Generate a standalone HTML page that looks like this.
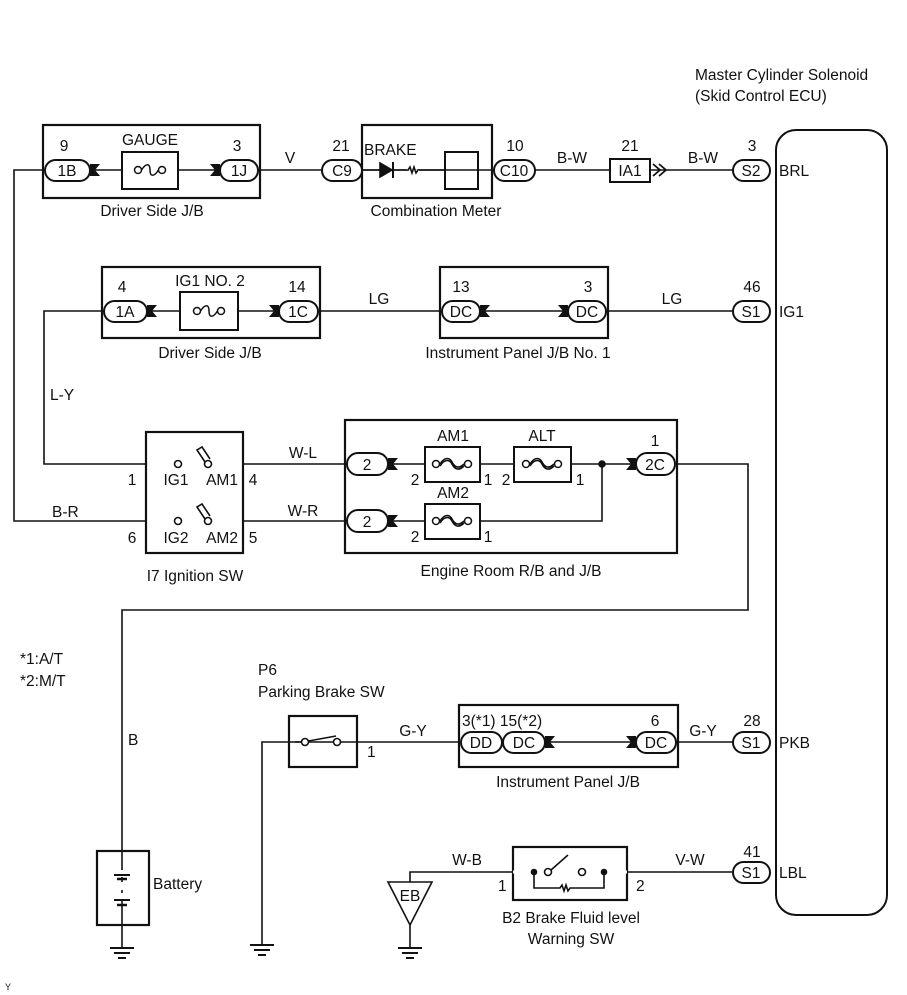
<!DOCTYPE html><html><head><style>body{margin:0;background:#fff}svg{display:block}text{font-family:"Liberation Sans",Arial,sans-serif;font-size:15.5px;fill:#111}</style></head><body>
<svg width="907" height="995" viewBox="0 0 907 995" xmlns="http://www.w3.org/2000/svg">
<defs>
<g id="fz"><circle cx="-12" cy="0" r="3.5" fill="#fff" stroke="#111" stroke-width="1.5"/><circle cx="12" cy="0" r="3.5" fill="#fff" stroke="#111" stroke-width="1.5"/><path d="M-8.5 0 C-4 -7 0 -7 0 0 C0 7 4 7 8.5 0" fill="none" stroke="#111" stroke-width="1.5"/></g>
<g id="fzw"><circle cx="-16" cy="0" r="3.5" fill="#fff" stroke="#111" stroke-width="1.5"/><circle cx="16" cy="0" r="3.5" fill="#fff" stroke="#111" stroke-width="1.5"/><path d="M-12 0 C-7 -8 -2 -6 0 -2 C2 2 6 6 12 0 M-12 2 C-7 -6 -2 -4 0 0 C2 4 6 8 12 2" fill="none" stroke="#111" stroke-width="1.6"/></g>
<path id="gl" d="M-7 -6 L3 -6 L-2 0 L3 6 L-7 6 Z" fill="#111"/>
<path id="gr" d="M7 -6 L-3 -6 L2 0 L-3 6 L7 6 Z" fill="#111"/>
<g id="gnd"><line x1="-12" y1="0" x2="12" y2="0" stroke="#111" stroke-width="2"/><line x1="-8" y1="5" x2="8" y2="5" stroke="#111" stroke-width="2"/><line x1="-4" y1="10" x2="4" y2="10" stroke="#111" stroke-width="2"/></g>
</defs>
<g stroke="#111" stroke-width="1.6" fill="none">
<path d="M45 170 H14 V521 H146"/>
<path d="M258 170 H322 M362 170 H494 M535 170 H610 M650 170 H733"/>
<path d="M104 311 H44 V464 H146 M318 311 H442 M480 311 H568 M606 311 H733"/>
<path d="M243 464 H347 M243 521 H347 M388 464 H636 M388 521 H602 V464 M675 464 H748 V610 H122 V851 M122 925 V948"/>
<path d="M147 311 H279 M90 170 H220"/>
<path d="M262 945 V742 H459 M676 742 H733 M545 742 H636"/>
<path d="M410 925 V948 M410 882 V872 H513 M627 872 H733"/>
<rect x="43" y="125" width="217" height="73" stroke-width="2.2"/>
<rect x="122" y="152" width="56" height="37" fill="#fff" stroke-width="2"/>
<rect x="362" y="125" width="130" height="73" stroke-width="2.2"/>
<rect x="445" y="152" width="33" height="37" stroke-width="2"/>
<rect x="610" y="159" width="40" height="23" fill="#fff" stroke-width="2"/>
<rect x="776" y="130" width="111" height="785" rx="20" stroke-width="2"/>
<rect x="102" y="267" width="218" height="71" stroke-width="2.2"/>
<rect x="180" y="292" width="58" height="38" fill="#fff" stroke-width="2"/>
<rect x="440" y="267" width="168" height="71" stroke-width="2.2"/>
<rect x="146" y="432" width="97" height="121" stroke-width="2.2"/>
<rect x="345" y="420" width="332" height="133" stroke-width="2.2"/>
<rect x="425" y="447" width="55" height="35" fill="#fff" stroke-width="2"/>
<rect x="514" y="447" width="57" height="35" fill="#fff" stroke-width="2"/>
<rect x="425" y="504" width="55" height="35" fill="#fff" stroke-width="2"/>
<rect x="289" y="716" width="68" height="51" stroke-width="2.2"/>
<rect x="459" y="705" width="219" height="62" stroke-width="2.2"/>
<rect x="513" y="847" width="114" height="53" stroke-width="2.2"/>
<rect x="97" y="851" width="52" height="74" stroke-width="2.2"/>
<g fill="#fff" stroke-width="2">
<rect x="45" y="160" width="45" height="21" rx="10.5"/><rect x="220" y="160" width="38" height="21" rx="10.5"/>
<rect x="322" y="160" width="40" height="21" rx="10.5"/><rect x="494" y="160" width="41" height="21" rx="10.5"/>
<rect x="733" y="160" width="37" height="21" rx="10.5"/>
<rect x="104" y="301" width="43" height="21" rx="10.5"/><rect x="279" y="301" width="39" height="21" rx="10.5"/>
<rect x="442" y="301" width="38" height="21" rx="10.5"/><rect x="568" y="301" width="38" height="21" rx="10.5"/>
<rect x="733" y="301" width="37" height="21" rx="10.5"/>
<rect x="347" y="453" width="41" height="22" rx="11"/><rect x="347" y="510" width="41" height="22" rx="11"/>
<rect x="636" y="453" width="39" height="22" rx="11"/>
<rect x="461" y="732" width="41" height="21" rx="10.5"/><rect x="503" y="732" width="42" height="21" rx="10.5"/>
<rect x="636" y="732" width="40" height="21" rx="10.5"/><rect x="733" y="732" width="37" height="21" rx="10.5"/>
<rect x="733" y="862" width="37" height="21" rx="10.5"/>
</g>
<circle cx="178" cy="464" r="3.5" fill="#fff"/><circle cx="208" cy="464" r="3.5" fill="#fff"/>
<path d="M205 462 L197 450 L202 447 L210 459" stroke-width="1.6"/>
<circle cx="178" cy="521" r="3.5" fill="#fff"/><circle cx="208" cy="521" r="3.5" fill="#fff"/>
<path d="M205 519 L197 507 L202 504 L210 516" stroke-width="1.6"/>
<circle cx="305" cy="742" r="3.5" fill="#fff"/><circle cx="337" cy="742" r="3.5" fill="#fff"/>
<path d="M295 742 H301.5 M308.5 741 L336 736" />
<path d="M513 872 H526 M530 872 H545 M580 872 H604 M609 872 H627" stroke="#fff" stroke-width="3"/>
<circle cx="548" cy="872" r="3.5" fill="#fff"/><circle cx="582" cy="872" r="3.5" fill="#fff"/>
<path d="M551 870 L568 855"/>
<path d="M534 872 V888 H560 l2 -3 l2 6 l2 -6 l2 6 l2 -3 H604 V872"/>
<circle cx="534" cy="872" r="2.5" fill="#111"/><circle cx="604" cy="872" r="2.5" fill="#111"/>
<circle cx="602" cy="464" r="3" fill="#111"/>
<path d="M388 882 H432 L410 925 Z" fill="#fff"/>
<path d="M380 163 L392 170 L380 177 Z" fill="#111"/><line x1="393" y1="162" x2="393" y2="178" stroke-width="2"/>
<path d="M380 170 H362 M393 170 H445"/>
<path d="M408 170 l2 -3 l2 6 l2 -6 l2 6 l2 -3" stroke="#fff" stroke-width="3"/>
<path d="M408 170 l2 -3 l2 6 l2 -6 l2 6 l2 -3"/>
<path d="M653 164 L660 170 L653 176 M659 164 L666 170 L659 176" stroke-width="1.8"/>
<path d="M122 851 V870 M122 877 V882 M122 890 V893 M122 900 V925" />
<line x1="114" y1="875" x2="130" y2="875" stroke-width="2"/><line x1="117" y1="879" x2="127" y2="879" stroke-width="2.5"/>
<line x1="114" y1="900" x2="130" y2="900" stroke-width="2"/><line x1="117" y1="905" x2="127" y2="905" stroke-width="2.5"/>
</g>
<rect x="126" y="166" width="48" height="8" fill="#fff"/>
<rect x="184" y="307" width="50" height="8" fill="#fff"/>
<use href="#fz" x="150" y="170"/><use href="#fz" x="209" y="311"/>
<use href="#fzw" x="452" y="464"/><use href="#fzw" x="542" y="464"/><use href="#fzw" x="452" y="521"/>
<use href="#gl" x="97" y="170"/><use href="#gr" x="213" y="170"/>
<use href="#gl" x="154" y="311"/><use href="#gr" x="272" y="311"/>
<use href="#gl" x="487" y="311"/><use href="#gr" x="561" y="311"/>
<use href="#gl" x="395" y="464"/><use href="#gl" x="395" y="521"/><use href="#gr" x="629" y="464"/>
<use href="#gl" x="552" y="742"/><use href="#gr" x="629" y="742"/>
<use href="#gnd" x="122" y="948"/><use href="#gnd" x="262" y="945"/><use href="#gnd" x="410" y="948"/>
<g text-anchor="middle">
<text x="67" y="176">1B</text><text x="239" y="176">1J</text><text x="342" y="176">C9</text><text x="514" y="176">C10</text><text x="630" y="176">IA1</text><text x="751" y="176">S2</text>
<text x="125" y="317">1A</text><text x="298" y="317">1C</text><text x="461" y="317">DC</text><text x="587" y="317">DC</text><text x="751" y="317">S1</text>
<text x="367" y="470">2</text><text x="367" y="527">2</text><text x="655" y="470">2C</text>
<text x="481" y="748">DD</text><text x="524" y="748">DC</text><text x="656" y="748">DC</text><text x="751" y="748">S1</text><text x="751" y="878">S1</text>
<text x="410" y="901">EB</text>
<text x="64" y="151">9</text><text x="150" y="145">GAUGE</text><text x="237" y="151">3</text><text x="290" y="163">V</text>
<text x="341" y="151">21</text><text x="515" y="151">10</text><text x="572" y="163">B-W</text><text x="630" y="151">21</text><text x="703" y="163">B-W</text><text x="752" y="151">3</text>
<text x="152" y="216">Driver Side J/B</text><text x="436" y="216">Combination Meter</text>
<text x="122" y="292">4</text><text x="210" y="286">IG1 NO. 2</text><text x="297" y="292">14</text><text x="379" y="304">LG</text>
<text x="461" y="292">13</text><text x="588" y="292">3</text><text x="672" y="304">LG</text><text x="752" y="292">46</text>
<text x="210" y="358">Driver Side J/B</text><text x="518" y="358">Instrument Panel J/B No. 1</text>
<text x="303" y="458">W-L</text><text x="303" y="516">W-R</text><text x="195" y="581">I7 Ignition SW</text><text x="511" y="576">Engine Room R/B and J/B</text>
<text x="453" y="441">AM1</text><text x="542" y="441">ALT</text><text x="453" y="498">AM2</text><text x="655" y="446">1</text>
<text x="415" y="485">2</text><text x="488" y="485">1</text><text x="506" y="485">2</text><text x="580" y="485">1</text><text x="415" y="542">2</text><text x="488" y="542">1</text>
<text x="132" y="485">1</text><text x="176" y="485">IG1</text><text x="222" y="485">AM1</text><text x="253" y="485">4</text>
<text x="132" y="543">6</text><text x="176" y="543">IG2</text><text x="222" y="543">AM2</text><text x="253" y="543">5</text>
<text x="413" y="736">G-Y</text><text x="655" y="726">6</text><text x="703" y="736">G-Y</text><text x="752" y="726">28</text><text x="568" y="787">Instrument Panel J/B</text>
<text x="467" y="865">W-B</text><text x="690" y="865">V-W</text><text x="752" y="857">41</text>
<text x="571" y="923">B2 Brake Fluid level</text><text x="571" y="944">Warning SW</text>
</g>
<text x="364" y="155">BRAKE</text>
<text x="462" y="726">3(*1) 15(*2)</text>
<text x="50" y="400">L-Y</text><text x="52" y="517">B-R</text><text x="128" y="745">B</text>
<text x="20" y="664">*1:A/T</text><text x="20" y="686">*2:M/T</text>
<text x="258" y="675">P6</text><text x="258" y="697">Parking Brake SW</text><text x="367" y="757">1</text>
<text x="498" y="891">1</text><text x="636" y="891">2</text>
<text x="153" y="889">Battery</text>
<text x="695" y="80">Master Cylinder Solenoid</text><text x="695" y="101">(Skid Control ECU)</text>
<text x="779" y="176">BRL</text><text x="779" y="317">IG1</text><text x="779" y="748">PKB</text><text x="779" y="878">LBL</text>
<text x="5" y="990" style="font-size:9px">Y</text>
</svg></body></html>
